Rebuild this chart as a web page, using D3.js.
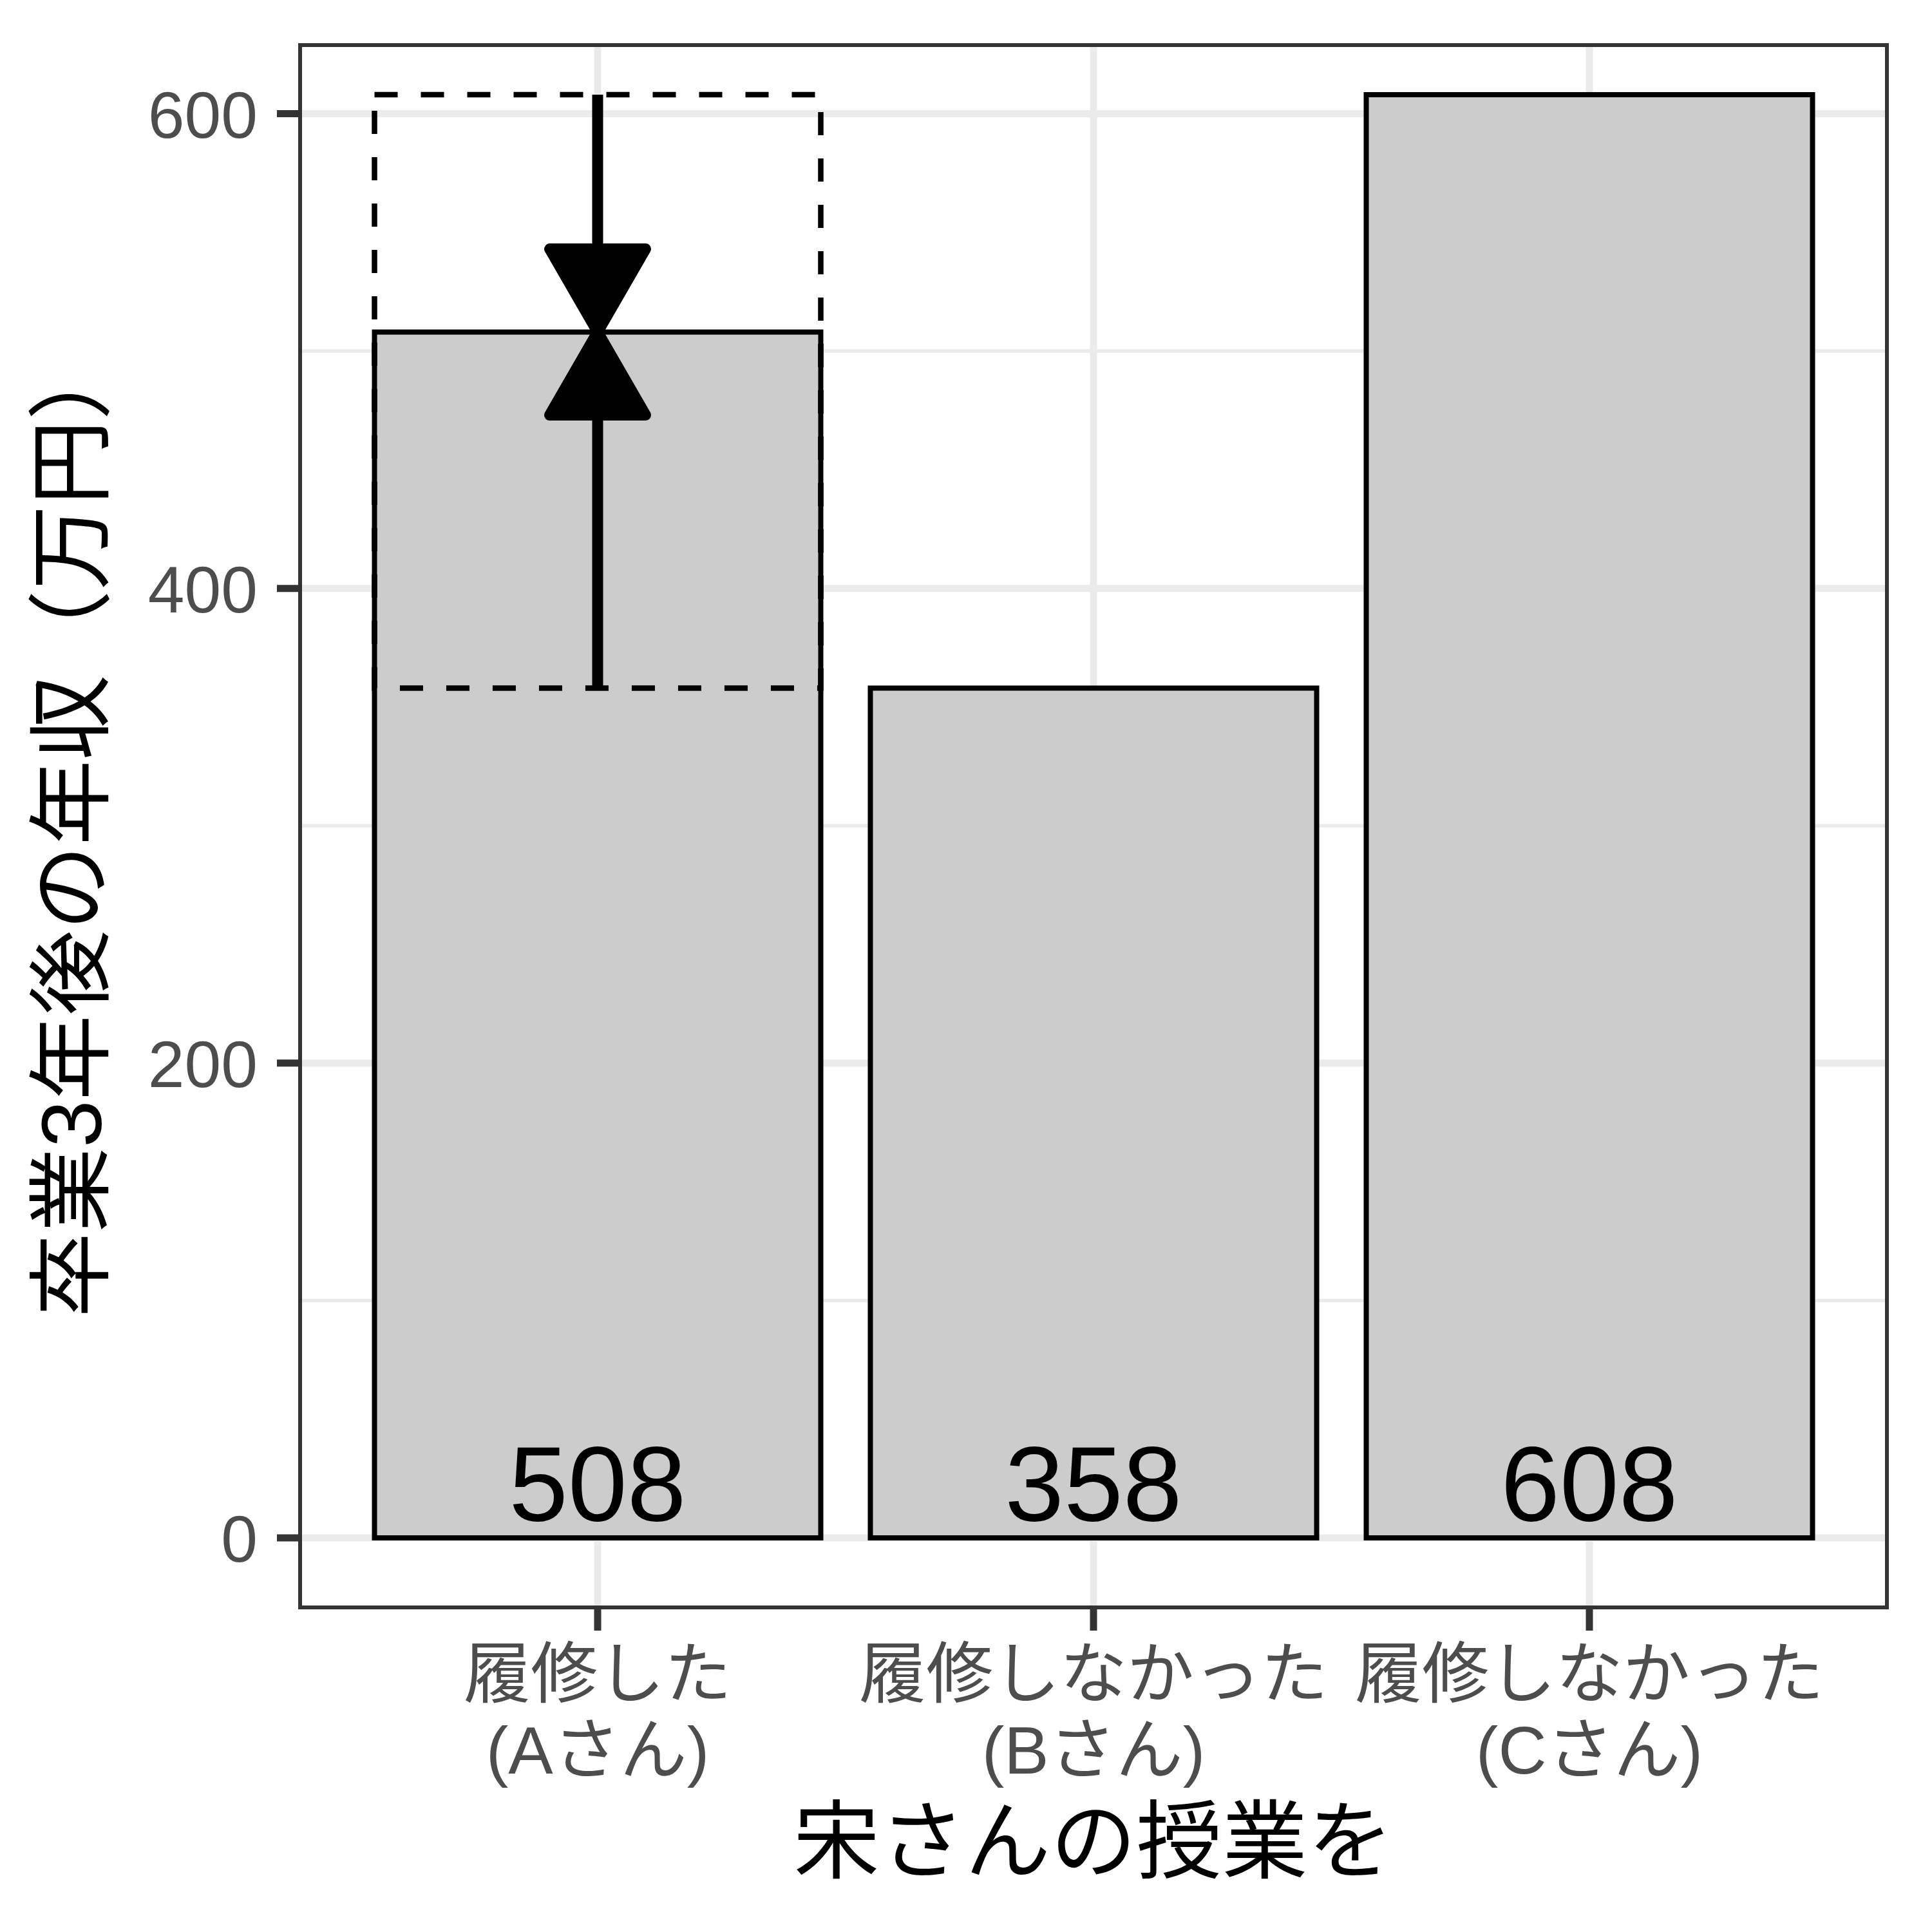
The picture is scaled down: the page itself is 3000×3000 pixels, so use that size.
<!DOCTYPE html>
<html>
<head>
<meta charset="utf-8">
<script src="https://cdn.jsdelivr.net/npm/d3@7"></script>
<style>
  body { margin: 0; background: #fff; }
  text { font-family: "Liberation Sans", "Noto Sans CJK JP", sans-serif; }
</style>
</head>
<body>
<svg id="chart" width="3000" height="3000"></svg>
<script>
// data
var categories = ["A", "B", "C"];
var labelLine1 = ["履修した", "履修しなかった", "履修しなかった"];
var labelLine2 = ["(Aさん)", "(Bさん)", "(Cさん)"];
var incomes = [508, 358, 608];
var majorTicks = [0, 200, 400, 600];
var minorTicks = [100, 300, 500];
// range of what A could have earned (B's and C's values), arrows point at A's value
var boxLow = 358, boxHigh = 608;
var arrowFrom = [608, 358];

var svg = d3.select("#chart");
svg.append("rect").attr("width", 3000).attr("height", 3000).attr("fill", "#fff");

var pLeft = 466, pRight = 2930, pTop = 70, pBottom = 2496;

var x = d3.scaleBand()
    .domain(categories)
    .range([pLeft, pRight])
    .paddingInner(0.1)
    .paddingOuter(0.15);

var y = d3.scaleLinear()
    .domain([-29.3, 628.9])
    .range([pBottom, pTop]);

var g = svg.append("g");

// grid
g.selectAll("line.minor")
    .data(minorTicks)
  .enter().append("line")
    .attr("x1", pLeft).attr("x2", pRight)
    .attr("y1", function(d) { return y(d); })
    .attr("y2", function(d) { return y(d); })
    .attr("stroke", "#EBEBEB")
    .attr("stroke-width", 5.5);

g.selectAll("line.major")
    .data(majorTicks)
  .enter().append("line")
    .attr("x1", pLeft).attr("x2", pRight)
    .attr("y1", function(d) { return y(d); })
    .attr("y2", function(d) { return y(d); })
    .attr("stroke", "#EBEBEB")
    .attr("stroke-width", 11);

g.selectAll("line.vgrid")
    .data(categories)
  .enter().append("line")
    .attr("x1", function(d) { return x(d) + x.bandwidth() / 2; })
    .attr("x2", function(d) { return x(d) + x.bandwidth() / 2; })
    .attr("y1", pTop).attr("y2", pBottom)
    .attr("stroke", "#EBEBEB")
    .attr("stroke-width", 11);

// bars
g.selectAll("rect.bar")
    .data(incomes)
  .enter().append("rect")
    .attr("x", function(d, i) { return x(categories[i]); })
    .attr("width", x.bandwidth())
    .attr("y", function(d) { return y(d); })
    .attr("height", function(d) { return y(0) - y(d); })
    .attr("fill", "#CCCCCC")
    .attr("stroke", "#000")
    .attr("stroke-width", 8);

// dashed box on A
g.append("rect")
    .attr("x", x("A"))
    .attr("width", x.bandwidth())
    .attr("y", y(boxHigh))
    .attr("height", y(boxLow) - y(boxHigh))
    .attr("fill", "none")
    .attr("stroke", "#000")
    .attr("stroke-width", 8.5)
    .attr("stroke-dasharray", "36,36");

// arrows
var cx = x("A") + x.bandwidth() / 2;
var headLen = 129, headHalf = headLen * Math.tan(Math.PI / 6);
arrowFrom.forEach(function(v) {
    var y0 = y(v), y1 = y(incomes[0]);
    var dir = y1 > y0 ? 1 : -1;
    g.append("line")
        .attr("x1", cx).attr("x2", cx)
        .attr("y1", y0).attr("y2", y1 - dir * headLen / 2)
        .attr("stroke", "#000")
        .attr("stroke-width", 17);
    var base = y1 - dir * headLen;
    g.append("path")
        .attr("d", "M" + cx + "," + y1 + "L" + (cx - headHalf) + "," + base + "L" + (cx + headHalf) + "," + base + "Z")
        .attr("fill", "#000")
        .attr("stroke", "#000")
        .attr("stroke-width", 17)
        .attr("stroke-linejoin", "round");
});

// value labels
g.selectAll("text.val")
    .data(incomes)
  .enter().append("text")
    .attr("x", function(d, i) { return x(categories[i]) + x.bandwidth() / 2; })
    .attr("y", y(0) - 27)
    .attr("text-anchor", "middle")
    .attr("font-size", 165)
    .attr("fill", "#000")
    .text(function(d) { return d; });

// panel border
svg.append("rect")
    .attr("x", pLeft).attr("y", pTop)
    .attr("width", pRight - pLeft).attr("height", pBottom - pTop)
    .attr("fill", "none")
    .attr("stroke", "#333333")
    .attr("stroke-width", 6);

// y axis ticks + labels
var yAxis = svg.append("g");
yAxis.selectAll("line")
    .data(majorTicks)
  .enter().append("line")
    .attr("x1", pLeft - 36).attr("x2", pLeft - 3)
    .attr("y1", function(d) { return y(d); })
    .attr("y2", function(d) { return y(d); })
    .attr("stroke", "#333333")
    .attr("stroke-width", 11);
yAxis.selectAll("text")
    .data(majorTicks)
  .enter().append("text")
    .attr("x", 400)
    .attr("y", function(d) { return y(d) + 37; })
    .attr("text-anchor", "end")
    .attr("font-size", 102)
    .attr("fill", "#4D4D4D")
    .text(function(d) { return d; });

// x axis ticks + labels
var xAxis = svg.append("g");
xAxis.selectAll("line")
    .data(categories)
  .enter().append("line")
    .attr("x1", function(d) { return x(d) + x.bandwidth() / 2; })
    .attr("x2", function(d) { return x(d) + x.bandwidth() / 2; })
    .attr("y1", pBottom + 3).attr("y2", pBottom + 36)
    .attr("stroke", "#333333")
    .attr("stroke-width", 11);
var xl = xAxis.selectAll("text")
    .data(categories)
  .enter().append("text")
    .attr("text-anchor", "middle")
    .attr("font-size", 104)
    .attr("fill", "#4D4D4D");
xl.append("tspan")
    .attr("x", function(d) { return x(d) + x.bandwidth() / 2; })
    .attr("y", 2636)
    .text(function(d, i) { return labelLine1[i]; });
xl.append("tspan")
    .attr("x", function(d) { return x(d) + x.bandwidth() / 2; })
    .attr("y", 2754)
    .text(function(d, i) { return labelLine2[i]; });

// axis titles
svg.append("text")
    .attr("x", (pLeft + pRight) / 2)
    .attr("y", 2906)
    .attr("text-anchor", "middle")
    .attr("font-size", 133)
    .attr("fill", "#000")
    .text("宋さんの授業を");

svg.append("text")
    .attr("transform", "translate(157," + ((pTop + pBottom) / 2) + ") rotate(-90)")
    .attr("text-anchor", "middle")
    .attr("font-size", 132)
    .attr("fill", "#000")
    .text("卒業3年後の年収（万円）");
</script>
</body>
</html>
